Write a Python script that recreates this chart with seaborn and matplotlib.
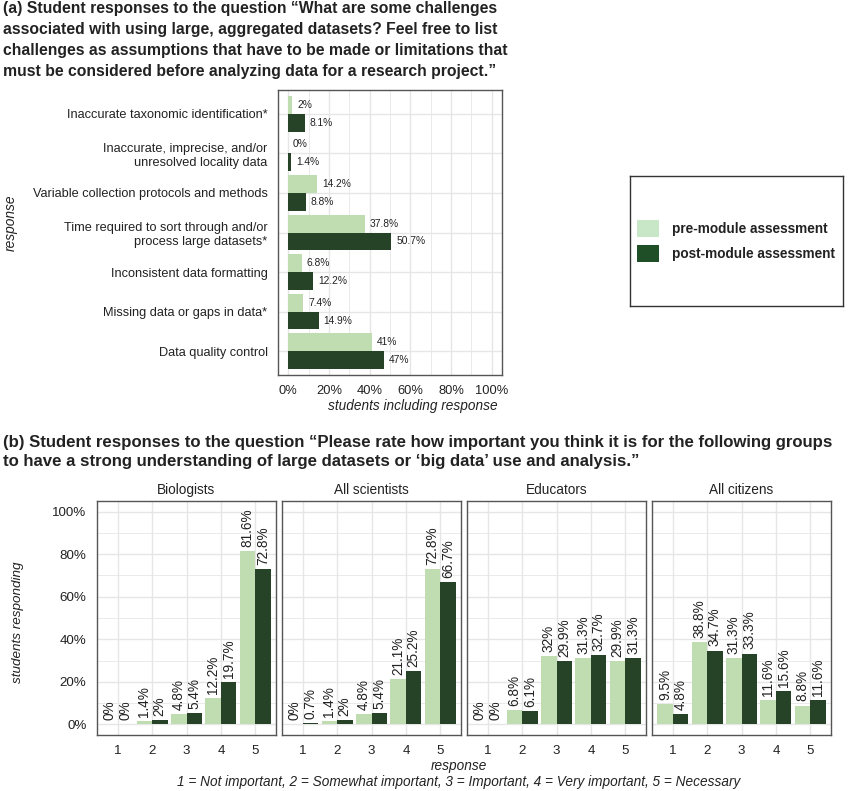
import matplotlib
matplotlib.use("Agg")
import matplotlib.pyplot as plt
from matplotlib.patches import Patch
from matplotlib.ticker import FixedLocator
import seaborn as sns
import pandas as pd

# ---------------- data ----------------
challenges = [
    "Inaccurate taxonomic identification*",
    "Inaccurate, imprecise, and/or\nunresolved locality data",
    "Variable collection protocols and methods",
    "Time required to sort through and/or\nprocess large datasets*",
    "Inconsistent data formatting",
    "Missing data or gaps in data*",
    "Data quality control",
]
pre_a = [2, 0, 14.2, 37.8, 6.8, 7.4, 41]
post_a = [8.1, 1.4, 8.8, 50.7, 12.2, 14.9, 47]

groups = ["Biologists", "All scientists", "Educators", "All citizens"]
ratings = ["1", "2", "3", "4", "5"]
pre_b = {
    "Biologists": [0, 1.4, 4.8, 12.2, 81.6],
    "All scientists": [0, 1.4, 4.8, 21.1, 72.8],
    "Educators": [0, 6.8, 32, 31.3, 29.9],
    "All citizens": [9.5, 38.8, 31.3, 11.6, 8.8],
}
post_b = {
    "Biologists": [0, 2, 5.4, 19.7, 72.8],
    "All scientists": [0.7, 2, 5.4, 25.2, 66.7],
    "Educators": [0, 6.1, 29.9, 32.7, 31.3],
    "All citizens": [4.8, 34.7, 33.3, 15.6, 11.6],
}
phases = ["pre-module assessment", "post-module assessment"]
pct_ticks = [0, 20, 40, 60, 80, 100]

# ---------------- style ----------------
sns.set_style("white")
plt.rcParams["font.family"] = ["Liberation Sans", "DejaVu Sans"]
LIGHT = "#bde4a8"
DARK = "#224822"
LEG_LIGHT = "#c8e7c6"
LEG_DARK = "#1e4f26"
GRID = "#e6e6e6"
BORDER = "#555555"
TXT = "#222222"
palette = {phases[0]: LIGHT, phases[1]: DARK}

W, H = 850, 791
fig = plt.figure(figsize=(W / 100, H / 100), dpi=100)


def rect(l, t, r, b):
    return [l / W, 1 - b / H, (r - l) / W, (b - t) / H]


def fx(x):
    return x / W


def fy(y):
    return 1 - y / H


def fmt(v):
    return f"{v:g}%"


def style_axes(ax):
    for s in ax.spines.values():
        s.set_visible(True)
        s.set_color(BORDER)
        s.set_linewidth(1.0)
    ax.tick_params(which="major", length=4, width=0.9, color="#333333",
                   direction="out", colors=TXT)
    ax.tick_params(which="minor", length=0)
    ax.set_axisbelow(True)


# ---------------- panel (a) ----------------
df_a = pd.DataFrame({
    "response": challenges * 2,
    "value": pre_a + post_a,
    "phase": [phases[0]] * len(challenges) + [phases[1]] * len(challenges),
})
ax_a = fig.add_axes(rect(278, 90, 502, 375))
sns.barplot(data=df_a, y="response", x="value", hue="phase", order=challenges,
            hue_order=phases, palette=palette, orient="h", width=0.9,
            linewidth=0, ax=ax_a, legend=False)
ax_a.set_xlim(-5, 105)
ax_a.set_ylim(6.6, -0.6)
ax_a.xaxis.set_major_locator(FixedLocator(pct_ticks))
ax_a.xaxis.set_minor_locator(FixedLocator([10, 30, 50, 70, 90]))
ax_a.set_xticklabels([f"{v}%" for v in pct_ticks], fontsize=9.3)
ax_a.tick_params(axis="y", labelsize=9.2)
ax_a.tick_params(axis="x", pad=3.5)
ax_a.grid(True, which="major", color=GRID, lw=1.0)
ax_a.grid(True, which="minor", axis="x", color=GRID, lw=0.6)
style_axes(ax_a)
ax_a.set_xlabel("")
ax_a.set_ylabel("")
for cont in ax_a.containers:
    for bar, v in zip(cont, cont.datavalues):
        ax_a.annotate(fmt(v), (bar.get_width(), bar.get_y() + bar.get_height() / 2),
                      xytext=(3.5, 0), textcoords="offset points", ha="left",
                      va="center", fontsize=7.4, color=TXT)

fig.text(fx(413), fy(405.5), "students including response", ha="center", va="center",
         fontstyle="italic", fontsize=9.8, color=TXT)
fig.text(fx(11), fy(223), "response", rotation=90, ha="center", va="center",
         fontstyle="italic", fontsize=9.9, color=TXT)

# legend box
ax_leg = fig.add_axes(rect(630, 176, 843, 306))
ax_leg.set_xticks([])
ax_leg.set_yticks([])
for s in ax_leg.spines.values():
    s.set_visible(True)
    s.set_color("#333333")
    s.set_linewidth(1.0)
handles = [Patch(facecolor=LEG_LIGHT, edgecolor="none", label=phases[0]),
           Patch(facecolor=LEG_DARK, edgecolor="none", label=phases[1])]
leg = ax_leg.legend(handles=handles, loc="center left", bbox_to_anchor=(-0.025, 0.5),
                    frameon=False, handlelength=1.65, handleheight=1.6,
                    handletextpad=0.9, labelspacing=0.55,
                    prop={"weight": "bold", "size": 9.8})
for t in leg.get_texts():
    t.set_color(TXT)

# ---------------- panel (b) ----------------
facet_lefts = [97, 282, 467, 652]
fw = 179
for i, g in enumerate(groups):
    df_b = pd.DataFrame({
        "rating": ratings * 2,
        "value": pre_b[g] + post_b[g],
        "phase": [phases[0]] * 5 + [phases[1]] * 5,
    })
    l = facet_lefts[i]
    ax = fig.add_axes(rect(l, 501, l + fw, 735))
    sns.barplot(data=df_b, x="rating", y="value", hue="phase", order=ratings,
                hue_order=phases, palette=palette, width=0.9, linewidth=0,
                ax=ax, legend=False)
    ax.set_xlim(-0.6, 4.6)
    ax.set_ylim(-5, 105)
    ax.yaxis.set_major_locator(FixedLocator(pct_ticks))
    ax.yaxis.set_minor_locator(FixedLocator([10, 30, 50, 70, 90]))
    ax.grid(True, which="major", color=GRID, lw=1.0)
    ax.grid(True, which="minor", axis="y", color=GRID, lw=0.6)
    style_axes(ax)
    ax.tick_params(axis="x", labelsize=9.6, pad=3)
    if i == 0:
        ax.set_yticklabels([f"{v}%" for v in pct_ticks], fontsize=9.6)
    else:
        ax.tick_params(axis="y", left=False, labelleft=False)
    ax.set_xlabel("")
    ax.set_ylabel("")
    ax.set_title(g, fontsize=9.8, color=TXT, pad=5)
    for cont in ax.containers:
        for bar, v in zip(cont, cont.datavalues):
            ax.annotate(fmt(v), (bar.get_x() + bar.get_width() / 2, bar.get_height()),
                        xytext=(0, 3), textcoords="offset points", ha="center",
                        va="bottom", rotation=90, fontsize=9.8, color=TXT)

fig.text(fx(18), fy(622), "students responding", rotation=90, ha="center",
         va="center", fontstyle="italic", fontsize=9.7, color=TXT)
fig.text(fx(459), fy(766), "response", ha="center", va="center",
         fontstyle="italic", fontsize=9.8, color=TXT)
fig.text(fx(459), fy(782),
         "1 = Not important, 2 = Somewhat important, 3 = Important, 4 = Very important, 5 = Necessary",
         ha="center", va="center", fontstyle="italic", fontsize=9.85, color=TXT)

# ---------------- titles ----------------
fig.text(fx(3), fy(1),
         "(a) Student responses to the question \u201cWhat are some challenges\n"
         "associated with using large, aggregated datasets? Feel free to list\n"
         "challenges as assumptions that have to be made or limitations that\n"
         "must be considered before analyzing data for a research project.\u201d",
         ha="left", va="top", fontsize=11.35, fontweight="bold", color=TXT,
         linespacing=1.5)
fig.text(fx(3), fy(435),
         "(b) Student responses to the question \u201cPlease rate how important you think it is for the following groups\n"
         "to have a strong understanding of large datasets or \u2018big data\u2019 use and analysis.\u201d",
         ha="left", va="top", fontsize=12.1, fontweight="bold", color=TXT,
         linespacing=1.35)

fig.savefig("out.png", dpi=100, facecolor="white")
